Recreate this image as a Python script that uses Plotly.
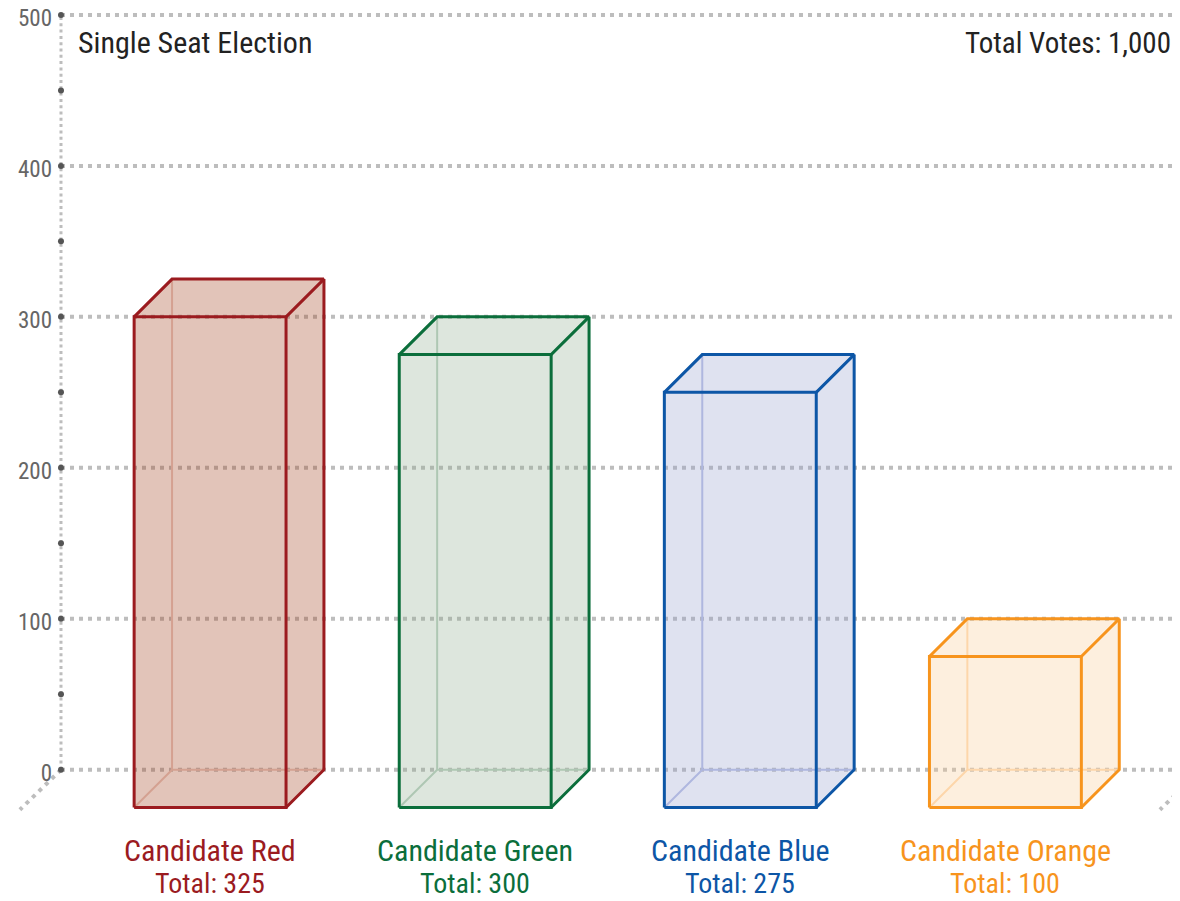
"""Single seat election: pseudo-3D vote bars."""

import plotly.graph_objects as go

# --- data ---------------------------------------------------------------
candidates = ["Candidate Red", "Candidate Green", "Candidate Blue", "Candidate Orange"]
votes = [325, 300, 275, 100]
line_colors = ["#9b1b1f", "#0b6e3b", "#0d56a6", "#f7941d"]
fill_colors = [
    "rgba(158,58,22,0.3)",
    "rgba(142,172,142,0.3)",
    "rgba(148,158,205,0.3)",
    "rgba(248,202,145,0.3)",
]
hidden_colors = ["#d4a191", "#aec7b3", "#afb7df", "#fdd6aa"]
y_ticks = [0, 100, 200, 300, 400, 500]
y_minor = [50, 150, 250, 350, 450]
chart_title = "Single Seat Election"

# --- geometry (axis units) ---------------------------------------------
# the page body has an 8px margin, so the figure is sized to fit inside it
WIDTH, HEIGHT = 1172, 893
X_RANGE = [-0.7623, 3.6586]
Y_RANGE = [-30, 504.6]
AXIS_X = -0.5624
FLOOR_RIGHT = 3.738
BAR_W = 0.573
DEPTH_X = 0.143
DEPTH_Y = 25

FONT = "Liberation Sans Narrow, Roboto Condensed, Roboto, sans-serif"
GRID = "#bdbdbd"

fig = go.Figure()

# horizontal dotted grid
for t in y_ticks:
    fig.add_trace(go.Scatter(
        x=[AXIS_X, X_RANGE[1]], y=[t, t], mode="lines",
        line=dict(color=GRID, width=4, dash="4px,5px"),
        hoverinfo="skip", showlegend=False,
    ))

# floor edges
fig.add_trace(go.Scatter(
    x=[AXIS_X, AXIS_X - 0.155, None, FLOOR_RIGHT, FLOOR_RIGHT - 0.155],
    y=[0, -26.5, None, 0, -26.5], mode="lines",
    line=dict(color=GRID, width=4, dash="4px,5px"),
    hoverinfo="skip", showlegend=False,
))

# vertical axis line with tick dots
fig.add_trace(go.Scatter(
    x=[AXIS_X, AXIS_X], y=[0, 500], mode="lines",
    line=dict(color=GRID, width=3, dash="3px,3.3px"),
    hoverinfo="skip", showlegend=False,
))
fig.add_trace(go.Scatter(
    x=[AXIS_X] * (len(y_ticks) + len(y_minor)), y=y_ticks + y_minor,
    mode="markers", marker=dict(color="#555555", size=6),
    hoverinfo="skip", showlegend=False,
))

# bars
for i, (name, v) in enumerate(zip(candidates, votes)):
    x0 = i - BAR_W / 2
    x1 = i + BAR_W / 2
    bx0 = x0 + DEPTH_X
    bx1 = x1 + DEPTH_X
    d = DEPTH_Y

    # silhouette fill
    fig.add_trace(go.Scatter(
        x=[x0, x0, bx0, bx1, bx1, x1, x0],
        y=[-d, v - d, v, v, 0, -d, -d],
        mode="lines", fill="toself", fillcolor=fill_colors[i],
        line=dict(width=0), hoverinfo="skip", showlegend=False,
    ))
    # hidden edges
    fig.add_trace(go.Scatter(
        x=[x0, bx0, bx1, None, bx0, bx0],
        y=[-d, 0, 0, None, 0, v],
        mode="lines", line=dict(color=hidden_colors[i], width=2),
        hoverinfo="skip", showlegend=False,
    ))
    # visible edges
    fig.add_trace(go.Scatter(
        x=[x0, x0, x1, x1, x0, None,
           x0, bx0, bx1, x1, None,
           bx1, bx1, x1],
        y=[-d, v - d, v - d, -d, -d, None,
           v - d, v, v, v - d, None,
           v, 0, -d],
        mode="lines", line=dict(color=line_colors[i], width=3),
        name=name, hovertemplate=f"{name}: {v}<extra></extra>",
        showlegend=False,
    ))
    fig.add_annotation(
        x=i, yref="paper", y=-0.0434, text=name, showarrow=False,
        xanchor="center", yanchor="middle",
        font=dict(family=FONT, size=30, color=line_colors[i]),
    )
    fig.add_annotation(
        x=i, yref="paper", y=-0.0855, text=f"Total: {v}", showarrow=False,
        xanchor="center", yanchor="middle",
        font=dict(family=FONT, size=28, color=line_colors[i]),
    )

fig.add_annotation(
    xref="paper", x=0.058, y=481.5, text=chart_title, showarrow=False,
    xanchor="left", yanchor="middle",
    font=dict(family=FONT, size=30, color="#222222"),
)
fig.add_annotation(
    xref="paper", x=0.9941, y=481.5, text=f"Total Votes: {sum(votes):,}",
    showarrow=False, xanchor="right", yanchor="middle",
    font=dict(family=FONT, size=29, color="#222222"),
)

fig.update_layout(
    width=WIDTH, height=HEIGHT,
    margin=dict(l=0, r=0, t=0, b=86, autoexpand=False),
    paper_bgcolor="white", plot_bgcolor="white",
    xaxis=dict(range=X_RANGE, visible=False, fixedrange=True),
    yaxis=dict(
        range=Y_RANGE, anchor="free", automargin=False,
        position=(AXIS_X - X_RANGE[0]) / (X_RANGE[1] - X_RANGE[0]),
        tickvals=y_ticks, showgrid=False, zeroline=False, showline=False,
        ticks="", ticklabelstandoff=9, ticklabeloverflow="allow",
        ticklabelshift=3,
        tickfont=dict(family=FONT, size=23, color="#666666"),
        fixedrange=True,
    ),
)

fig.write_html("out.html")
